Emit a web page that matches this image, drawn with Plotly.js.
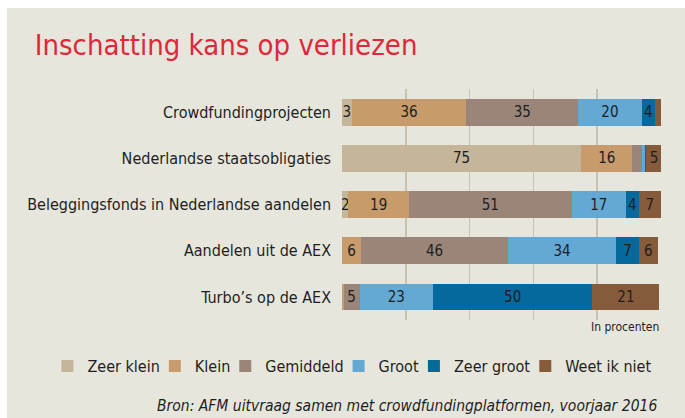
<!DOCTYPE html>
<html>
<head>
<meta charset="utf-8">
<script src="https://cdn.plot.ly/plotly-3.0.1.min.js"></script>
<style>
  html, body { margin: 0; padding: 0; background: #ffffff; }
  #chart { position: absolute; left: 7px; top: 8px; width: 678px; height: 410px; }
</style>
</head>
<body>
<div id="chart"></div>
<script>
// Categories (top to bottom)
const categories = [
  "Crowdfundingprojecten",
  "Nederlandse staatsobligaties",
  "Beleggingsfonds in Nederlandse aandelen",
  "Aandelen uit de AEX",
  "Turbo\u2019s op de AEX"
];

// Series names
const seriesNames = ["Zeer klein", "Klein", "Gemiddeld", "Groot", "Zeer groot", "Weet ik niet"];

// Series values (percent), one per category
const zeerKlein  = [3, 75, 2, 0, 0];
const klein      = [36, 16, 19, 6, 0.5];
const gemiddeld  = [35, 3, 51, 46, 5];
const groot      = [20, 1, 17, 34, 23];
const zeerGroot  = [4, 0.3, 4, 7, 50];
const weetIkNiet = [2, 5, 7, 6, 21];

// Labels printed inside the segments (empty where the reference shows none)
const zeerKleinLabels  = ["3", "75", "2", "", ""];
const kleinLabels      = ["36", "16", "19", "6", ""];
const gemiddeldLabels  = ["35", "", "51", "46", "5"];
const grootLabels      = ["20", "", "17", "34", "23"];
const zeerGrootLabels  = ["4", "", "4", "7", "50"];
const weetIkNietLabels = ["", "5", "7", "6", "21"];

const seriesValues = [zeerKlein, klein, gemiddeld, groot, zeerGroot, weetIkNiet];
const seriesLabels = [zeerKleinLabels, kleinLabels, gemiddeldLabels, grootLabels, zeerGrootLabels, weetIkNietLabels];
const seriesColors = ["#c4b59b", "#c79b6c", "#9b8579", "#63a9d4", "#06699b", "#865b3b"];

const FONT = "'Liberation Sans Narrow', 'DejaVu Sans Condensed', Lato, sans-serif";

const traces = seriesValues.map((vals, i) => ({
  type: "bar",
  orientation: "h",
  name: seriesNames[i],
  y: categories,
  x: vals,
  marker: { color: seriesColors[i], line: { width: 0 } },
  text: seriesLabels[i],
  textposition: "inside",
  insidetextanchor: "middle",
  textangle: 0,
  textfont: { family: FONT, size: 15, color: "#1e1e1e" },
  hoverinfo: "name+x"
}));

const layout = {
  width: 678,
  height: 410,
  paper_bgcolor: "#e7e6dd",
  plot_bgcolor: "#e7e6dd",
  barmode: "stack",
  bargap: 0.42,
  margin: { l: 335, r: 24, t: 81, b: 98 },
  font: { family: FONT, color: "#1e1e1e" },
  title: {
    text: "Inschatting kans op verliezen",
    font: { family: FONT, size: 29, color: "#e0283a" },
    x: 0.041, xanchor: "left", xref: "container",
    y: 0.91, yanchor: "middle", yref: "container"
  },
  xaxis: {
    range: [0, 100.01],
    dtick: 20,
    tick0: 0,
    showgrid: true,
    gridcolor: "#c9c1b2",
    gridwidth: 1.5,
    zeroline: false,
    showline: false,
    showticklabels: false,
    fixedrange: true
  },
  yaxis: {
    autorange: "reversed",
    showgrid: false,
    zeroline: false,
    showline: false,
    ticks: "",
    ticklabelstandoff: 10,
    tickfont: { family: FONT, size: 16, color: "#1e1e1e" },
    fixedrange: true
  },
  uniformtext: { mode: "show", minsize: 15 },
  showlegend: true,
  legend: {
    orientation: "h",
    xref: "paper",
    x: -0.892, xanchor: "left",
    yref: "paper",
    y: -0.2, yanchor: "middle",
    font: { family: FONT, size: 16, color: "#1e1e1e" },
    bgcolor: "rgba(0,0,0,0)",
    traceorder: "normal",
    itemwidth: 30,
    indentation: -10
  },
  annotations: [
    {
      text: "In procenten",
      xref: "paper", yref: "paper",
      x: 1, xanchor: "right",
      y: -0.03, yanchor: "middle",
      showarrow: false,
      font: { family: FONT, size: 12, color: "#1e1e1e" }
    },
    {
      text: "<i>Bron: AFM uitvraag samen met crowdfundingplatformen, voorjaar 2016</i>",
      xref: "paper", yref: "paper",
      x: 0.993, xanchor: "right",
      y: -0.372, yanchor: "middle",
      showarrow: false,
      font: { family: FONT, size: 15.5, color: "#1e1e1e" }
    }
  ]
};

Plotly.newPlot("chart", traces, layout, { displayModeBar: false, staticPlot: true });
</script>
</body>
</html>
